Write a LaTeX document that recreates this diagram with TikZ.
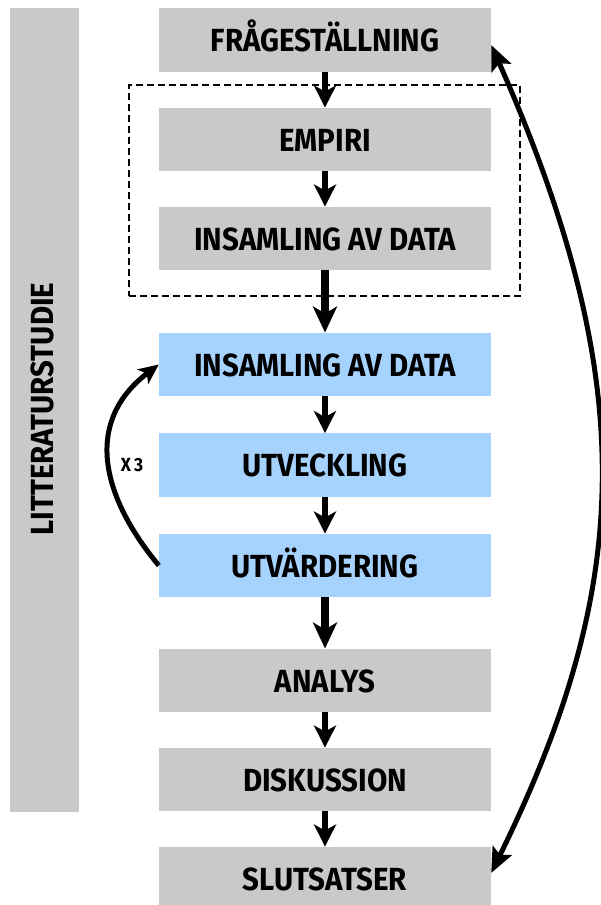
\documentclass[tikz,border=0pt]{standalone}
\usepackage{fontspec}
\usetikzlibrary{arrows.meta}
\newfontfamily\labelfont{Fira Sans}[FakeStretch=0.92]
\definecolor{boxgray}{RGB}{201,201,201}
\definecolor{boxblue}{RGB}{166,210,254}
\begin{document}
\begin{tikzpicture}[x=1pt,y=-1pt,
  box/.style={minimum width=332pt, minimum height=63.5pt, inner sep=0pt,
    text height=23pt, text depth=0pt,
    font=\labelfont\bfseries\fontsize{32}{32}\selectfont},
  graybox/.style={box, fill=boxgray},
  bluebox/.style={box, fill=boxblue},
  flow/.style={line width=6pt, -{Stealth[length=22pt,width=22pt,inset=6pt]}},
  bigflow/.style={line width=8pt, -{Stealth[length=26pt,width=24pt,inset=7pt]}},
  backloop/.style={line width=5pt, -{Stealth[length=20pt,width=18pt,inset=5pt]}},
  returnloop/.style={line width=5pt,
    {Stealth[length=25pt,width=21pt,inset=5pt]}-{Stealth[length=25pt,width=21pt,inset=5pt]}},
  groupframe/.style={draw, line width=1.3pt, dash pattern=on 7pt off 4pt}
]
\clip (0,0) rectangle (601,905);

% side bar
\node[fill=boxgray, minimum width=69pt, minimum height=804pt, inner sep=0pt] (lit) at (44.5,410) {};
\node[rotate=90, inner sep=0pt, text height=23pt, text depth=0pt,
  font=\labelfont\bfseries\fontsize{32}{32}\selectfont] (littext) at (41.5,409) {LITTERATURSTUDIE};

% empirical group frame
\node[groupframe, minimum width=391pt, minimum height=211pt, inner sep=0pt] (grp) at (324.5,190.5) {};

% process steps
\node[graybox] (frag)   at (325,40)    {FRÅGESTÄLLNING};
\node[graybox] (empiri) at (325,139.5) {EMPIRI};
\node[graybox] (insg)   at (325,238.5) {INSAMLING AV DATA};
\node[bluebox] (insb)   at (325,364.5) {INSAMLING AV DATA};
\node[bluebox] (utv)    at (325,465)   {UTVECKLING};
\node[bluebox] (utvard) at (325,565.5) {UTVÄRDERING};
\node[graybox] (analys) at (325,680.5) {ANALYS};
\node[graybox] (disk)   at (325,779.5) {DISKUSSION};
\node[graybox] (slut)   at (325,878.5) {SLUTSATSER};

% main flow
\draw[flow]    (frag.south)   -- (empiri.north);
\draw[flow]    (empiri.south) -- (insg.north);
\draw[bigflow] (insg.south)   -- (insb.north);
\draw[flow]    (insb.south)   -- (utv.north);
\draw[flow]    (utv.south)    -- (utvard.north);
\draw[bigflow] (utvard.south) -- (analys.north);
\draw[flow]    (analys.south) -- (disk.north);
\draw[flow]    (disk.south)   -- (slut.north);

% iteration loop
\draw[backloop] (utvard.west) .. controls +(-58,-70) and +(-75,57) .. (insb.west);
\node[font=\labelfont\bfseries\fontsize{19}{19}\selectfont, inner sep=0pt] (times) at (132,465) {X\,3};

% return arrow between conclusions and question
\coordinate (fragtip) at ([yshift=-5pt]frag.east);
\coordinate (sluttip) at ([yshift=5.5pt]slut.east);
\draw[returnloop] (sluttip) .. controls +(140,-285) and +(151,341) .. (fragtip);
\end{tikzpicture}
\end{document}
